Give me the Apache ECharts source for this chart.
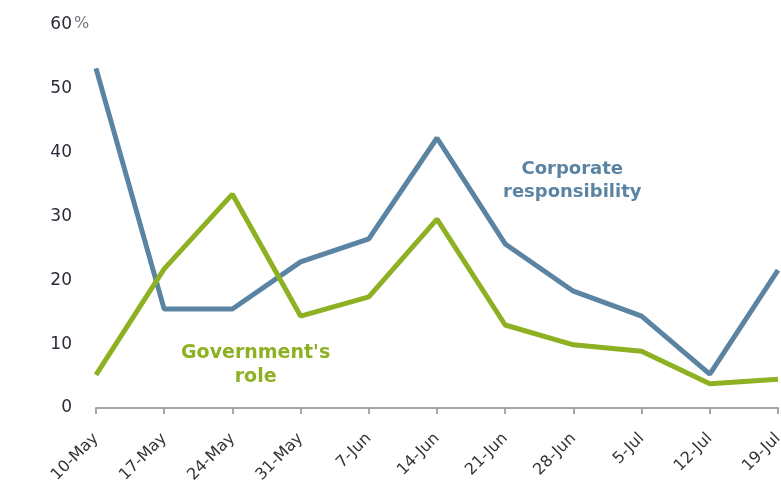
<!DOCTYPE html>
<html><head><meta charset="utf-8">
<script src="https://cdn.jsdelivr.net/npm/echarts@6/dist/echarts.min.js"></script>
<style>html,body{margin:0;padding:0;background:#fff}#c{width:781px;height:490px}</style>
</head><body><div id="c"></div>
<script>
const categories = ['10-May','17-May','24-May','31-May','7-Jun','14-Jun','21-Jun','28-Jun','5-Jul','12-Jul','19-Jul'];
const corporate = [53.2, 15.5, 15.5, 22.9, 26.5, 42.3, 25.7, 18.3, 14.4, 5.3, 21.6];
const government = [5.2, 21.8, 33.5, 14.4, 17.4, 29.6, 13.0, 9.9, 8.9, 3.8, 4.5];
const yTicks = [0, 10, 20, 30, 40, 50, 60];

const chart = echarts.init(document.getElementById('c'));
const font = 'DejaVu Sans';
chart.setOption({
  animation: false,
  grid: {left: 96, right: 3, top: 25, bottom: 82, containLabel: false, outerBoundsMode: 'none'},
  xAxis: {
    type: 'category', data: categories, boundaryGap: false,
    axisLine: {lineStyle: {color: '#a6a6a6', width: 2}},
    axisTick: {show: true, alignWithLabel: true, length: 6, lineStyle: {color: '#a6a6a6', width: 2}},
    axisLabel: {rotate: 45, margin: 28, fontFamily: font, fontSize: 16, color: '#333', interval: 0, hideOverlap: false}
  },
  yAxis: {
    type: 'value', min: 0, max: 60, interval: 10,
    axisLine: {show: false}, axisTick: {show: false}, splitLine: {show: false},
    axisLabel: {margin: 24, fontFamily: font, fontSize: 17, color: '#2a2a3a',
      formatter: v => yTicks.includes(v) ? String(v) : ''}
  },
  graphic: [
    {type: 'text', left: 74, top: 16, style: {text: '%', fontFamily: font, fontSize: 16, fill: '#777'}},
    {type: 'text', left: 503, top: 158, style: {text: 'Corporate\nresponsibility', textAlign: 'center', fontFamily: font, fontSize: 18, fontWeight: 'bold', fill: '#5b84a3', lineHeight: 23}},
    {type: 'text', left: 181, top: 341, style: {text: "Government's\nrole", textAlign: 'center', fontFamily: font, fontSize: 19, fontWeight: 'bold', fill: '#8db122', lineHeight: 24}}
  ],
  series: [
    {type: 'line', data: corporate, symbol: 'none', lineStyle: {color: '#5b84a3', width: 5}, z: 2},
    {type: 'line', data: government, symbol: 'none', lineStyle: {color: '#8db122', width: 5}, z: 3}
  ]
});
</script></body></html>
